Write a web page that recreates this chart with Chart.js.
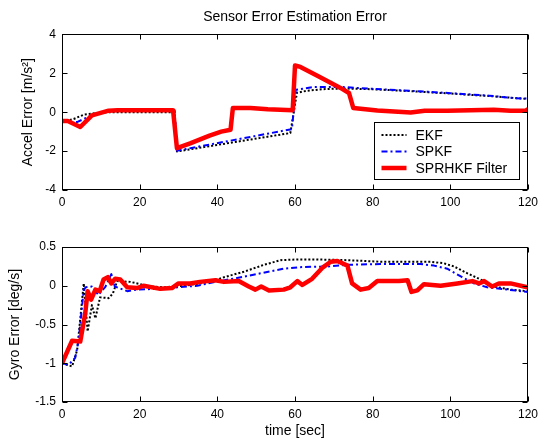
<!DOCTYPE html>
<html>
<head>
<meta charset="utf-8">
<script src="https://cdn.jsdelivr.net/npm/chart.js@4"></script>
<style>
html,body{margin:0;padding:0;background:#fff;}
#wrap{position:relative;width:545px;height:442px;overflow:hidden;}
canvas{position:absolute;left:0;}
#accel{top:0;}
#gyro{top:215px;}
</style>
</head>
<body>
<div id="wrap">
  <canvas id="accel" width="545" height="215"></canvas>
  <canvas id="gyro" width="545" height="227"></canvas>
</div>
<script>
/* DATA - accel (top) */
const accelEkfT = [0, 3, 5.6, 8.8, 12, 29, 29.6, 58.8, 60.5, 63, 67, 72, 80, 90, 100, 110, 120];
const accelEkf  = [-0.5, -0.35, -0.13, -0.05, 0.0, 0.0, -2.02, -1.07, 1.0, 1.1, 1.18, 1.22, 1.18, 1.08, 0.96, 0.83, 0.68];

const accelSpkfT = [0, 4, 8, 12, 29, 29.6, 59.2, 60.2, 64.8, 71.7, 80, 90, 100, 110, 116.4, 120];
const accelSpkf  = [-0.5, -0.5, -0.12, 0.08, 0.1, -1.98, -0.87, 1.15, 1.3, 1.3, 1.2, 1.1, 0.98, 0.85, 0.72, 0.7];

const accelFiltT = [0, 1.5, 4.7, 7.7, 12, 14.3, 28.6, 29.6, 33, 38, 41, 43.4, 44, 48.5, 53, 59.4, 60, 61.4, 66, 71.7, 73.9, 75, 77.5, 81.2, 89.8, 93.4, 99.2, 105.2, 111.2, 115.5, 119.4, 120];
const accelFilt  = [-0.45, -0.45, -0.76, -0.16, 0.08, 0.1, 0.1, -1.85, -1.6, -1.2, -1.0, -0.9, 0.22, 0.22, 0.15, 0.1, 2.4, 2.33, 1.85, 1.25, 0.99, 0.22, 0.17, 0.09, -0.01, 0.07, 0.08, 0.1, 0.12, 0.08, 0.08, 0.15];

/* DATA - gyro (bottom) */
const gyroEkfT = [0, 2.6, 3.9, 5.6, 6.6, 7.7, 8.6, 9.8, 12, 13.1, 14.2, 17.6, 20.2, 22.8, 26.3, 31.4, 38.3, 41.7, 46.8, 52, 56.3, 61, 64.8, 73.5, 82, 94.9, 98.3, 100.9, 104.4, 107.8, 111.2, 115.5, 120];
const gyroEkf  = [-1.0, -1.04, -0.83, 0.03, -0.59, -0.25, -0.42, -0.15, -0.16, -0.1, 0.06, 0.05, 0.02, -0.01, -0.02, 0.0, 0.05, 0.11, 0.18, 0.27, 0.33, 0.34, 0.34, 0.33, 0.31, 0.31, 0.29, 0.25, 0.16, 0.08, -0.01, -0.05, -0.07];

const gyroSpkfT = [0, 1.7, 3.4, 4.3, 5.6, 6.1, 7.7, 9.4, 11.2, 12.7, 13.6, 16.8, 19.3, 24.4, 29.6, 34.8, 39.5, 45.1, 51.1, 57.1, 61.3, 69, 73.5, 82, 92.3, 95.8, 99.2, 102.7, 106.1, 109.5, 114.7, 120];
const gyroSpkf  = [-1.0, -1.02, -0.93, -0.7, -0.05, -0.02, -0.01, -0.12, -0.01, 0.15, -0.01, -0.07, -0.05, -0.04, -0.02, 0.0, 0.05, 0.1, 0.16, 0.22, 0.24, 0.25, 0.27, 0.28, 0.28, 0.26, 0.22, 0.12, 0.03, -0.02, -0.05, -0.08];

const gyroFiltT = [0, 2.6, 4.7, 6, 6.6, 7.5, 8.6, 9.7, 10.7, 11.8, 12.7, 13.7, 15, 16.8, 19.3, 21, 25.3, 28.3, 30, 33, 35.5, 39.5, 41.7, 45.5, 48.1, 49.8, 51.3, 53.3, 57.1, 58.8, 60.6, 61.9, 64.4, 67, 69.2, 70.9, 73.5, 74.7, 76.9, 79, 81.2, 86.8, 89, 90, 91.5, 93.2, 97.5, 101.8, 105.7, 107.4, 108.7, 110.8, 112.5, 115.5, 119.8, 120];
const gyroFilt  = [-1.0, -0.71, -0.72, -0.35, -0.07, -0.18, -0.05, -0.07, 0.08, 0.11, 0.03, 0.09, 0.08, -0.02, -0.03, 0.0, -0.04, -0.03, 0.03, 0.03, 0.05, 0.07, 0.05, 0.06, -0.01, -0.05, -0.01, -0.06, -0.05, -0.02, 0.06, 0.01, 0.09, 0.23, 0.31, 0.32, 0.26, 0.03, -0.05, -0.03, 0.06, 0.06, 0.07, -0.08, -0.06, 0.02, 0.0, 0.03, 0.06, 0.03, 0.06, -0.01, 0.03, 0.03, -0.02, -0.02];

const seriesNames = ["EKF", "SPKF", "SPRHKF Filter"];
const xTicks = [0, 20, 40, 60, 80, 100, 120];

const FONT = "'Liberation Sans', Arial, Helvetica, sans-serif";

function pts(t, v){ return t.map((x,i)=>({x:x, y:v[i]})); }

function sets(ekfT, ekf, spkfT, spkf, filtT, filt){
  return [
    {label:seriesNames[0], data:pts(ekfT,ekf), borderColor:"#000", borderWidth:2, borderDash:[2,2], order:2},
    {label:seriesNames[1], data:pts(spkfT,spkf), borderColor:"#0000ff", borderWidth:2, borderDash:[6,3,2,3], order:1},
    {label:seriesNames[2], data:pts(filtT,filt), borderColor:"#ff0000", borderWidth:4.5, order:0}
  ];
}

/* box + inward ticks like matlab */
const frame = {
  id:"frame",
  afterDatasetsDraw(chart){
    const {ctx, chartArea:a, scales:{x,y}} = chart;
    const L=Math.round(a.left)+0.5, R=Math.round(a.right)-0.5, T=Math.round(a.top)+0.5, B=Math.round(a.bottom)-0.5;
    ctx.save();
    ctx.strokeStyle="#000"; ctx.lineWidth=1; ctx.setLineDash([]);
    ctx.strokeRect(L, T, R-L, B-T);
    ctx.beginPath();
    x.ticks.forEach(t=>{
      const p=Math.round(x.getPixelForValue(t.value))+0.5;
      ctx.moveTo(p,B); ctx.lineTo(p,B-5);
      ctx.moveTo(p,T); ctx.lineTo(p,T+5);
    });
    y.ticks.forEach(t=>{
      const p=Math.round(y.getPixelForValue(t.value))+0.5;
      ctx.moveTo(L,p); ctx.lineTo(L+5,p);
      ctx.moveTo(R,p); ctx.lineTo(R-5,p);
    });
    ctx.stroke();
    ctx.restore();
  }
};

/* legend box inside top axes */
const boxLegend = {
  id:"boxLegend",
  afterDraw(chart){
    const {ctx, chartArea:a} = chart;
    const w=145, h=57;
    const bx=Math.round(a.right-9-w)+0.5, by=Math.round(a.top+88)+0.5;
    ctx.save();
    ctx.fillStyle="#fff"; ctx.fillRect(bx,by,w,h);
    ctx.strokeStyle="#000"; ctx.lineWidth=1; ctx.setLineDash([]);
    ctx.strokeRect(bx,by,w,h);
    ctx.font="14px "+FONT; ctx.textBaseline="middle"; ctx.fillStyle="#000";
    chart.data.datasets.forEach((d,i)=>{
      const yy=by+12.5+i*16.5;
      ctx.beginPath();
      ctx.strokeStyle=d.borderColor; ctx.lineWidth=d.borderWidth;
      ctx.setLineDash(d.borderDash||[]);
      ctx.moveTo(bx+7,yy); ctx.lineTo(bx+32,yy); ctx.stroke();
      ctx.setLineDash([]);
      ctx.fillText(d.label, bx+41, yy+1);
    });
    ctx.restore();
  }
};

function xScale(h, title){
  return {
    type:"linear", min:0, max:120,
    afterBuildTicks(s){ s.ticks = xTicks.map(v=>({value:v})); },
    ticks:{color:"#000", font:{family:FONT,size:12}, padding:5, maxRotation:0, autoSkip:false},
    grid:{display:false, drawTicks:false},
    border:{display:false},
    title: title ? {display:true, text:title, color:"#000", font:{family:FONT,size:14}, padding:{top:0,bottom:2.6}} : {display:false},
    afterFit(s){ s.height=h; }
  };
}

function yScale(min, max, step, title, tpad){
  return {
    min:min, max:max,
    ticks:{stepSize:step, color:"#000", font:{family:FONT,size:12}, padding:6,
      callback:v=>String(Math.round(v*10)/10)},
    grid:{display:false, drawTicks:false},
    border:{display:false},
    title:{display:true, text:title, color:"#000", font:{family:FONT,size:14}, padding:{top:tpad,bottom:0}},
    afterFit(s){ s.width=62; }
  };
}

const common = {
  responsive:false,
  animation:false,
  events:[],
  elements:{point:{radius:0}, line:{tension:0, borderCapStyle:"butt", borderJoinStyle:"round"}},
};

new Chart(document.getElementById("accel"), {
  type:"line",
  data:{datasets:sets(accelEkfT,accelEkf,accelSpkfT,accelSpkf,accelFiltT,accelFilt)},
  options:Object.assign({}, common, {
    layout:{padding:{left:0,right:17,top:0,bottom:0}},
    plugins:{
      legend:{display:false},
      tooltip:{enabled:false},
      title:{display:true, fullSize:false, text:"Sensor Error Estimation Error", color:"#000",
        font:{family:FONT,size:14,weight:"normal"}, padding:{top:8.6,bottom:9}}
    },
    scales:{x:xScale(25, null), y:yScale(-4, 4, 2, "Accel Error [m/s²]", 19.6)}
  }),
  plugins:[frame, boxLegend]
});

new Chart(document.getElementById("gyro"), {
  type:"line",
  data:{datasets:sets(gyroEkfT,gyroEkf,gyroSpkfT,gyroSpkf,gyroFiltT,gyroFilt)},
  options:Object.assign({}, common, {
    layout:{padding:{left:0,right:17,top:32,bottom:0}},
    plugins:{legend:{display:false}, tooltip:{enabled:false}},
    scales:{x:xScale(40, "time [sec]"), y:yScale(-1.5, 0.5, 0.5, "Gyro Error [deg/s]", 6.6)}
  }),
  plugins:[frame]
});
</script>
</body>
</html>
